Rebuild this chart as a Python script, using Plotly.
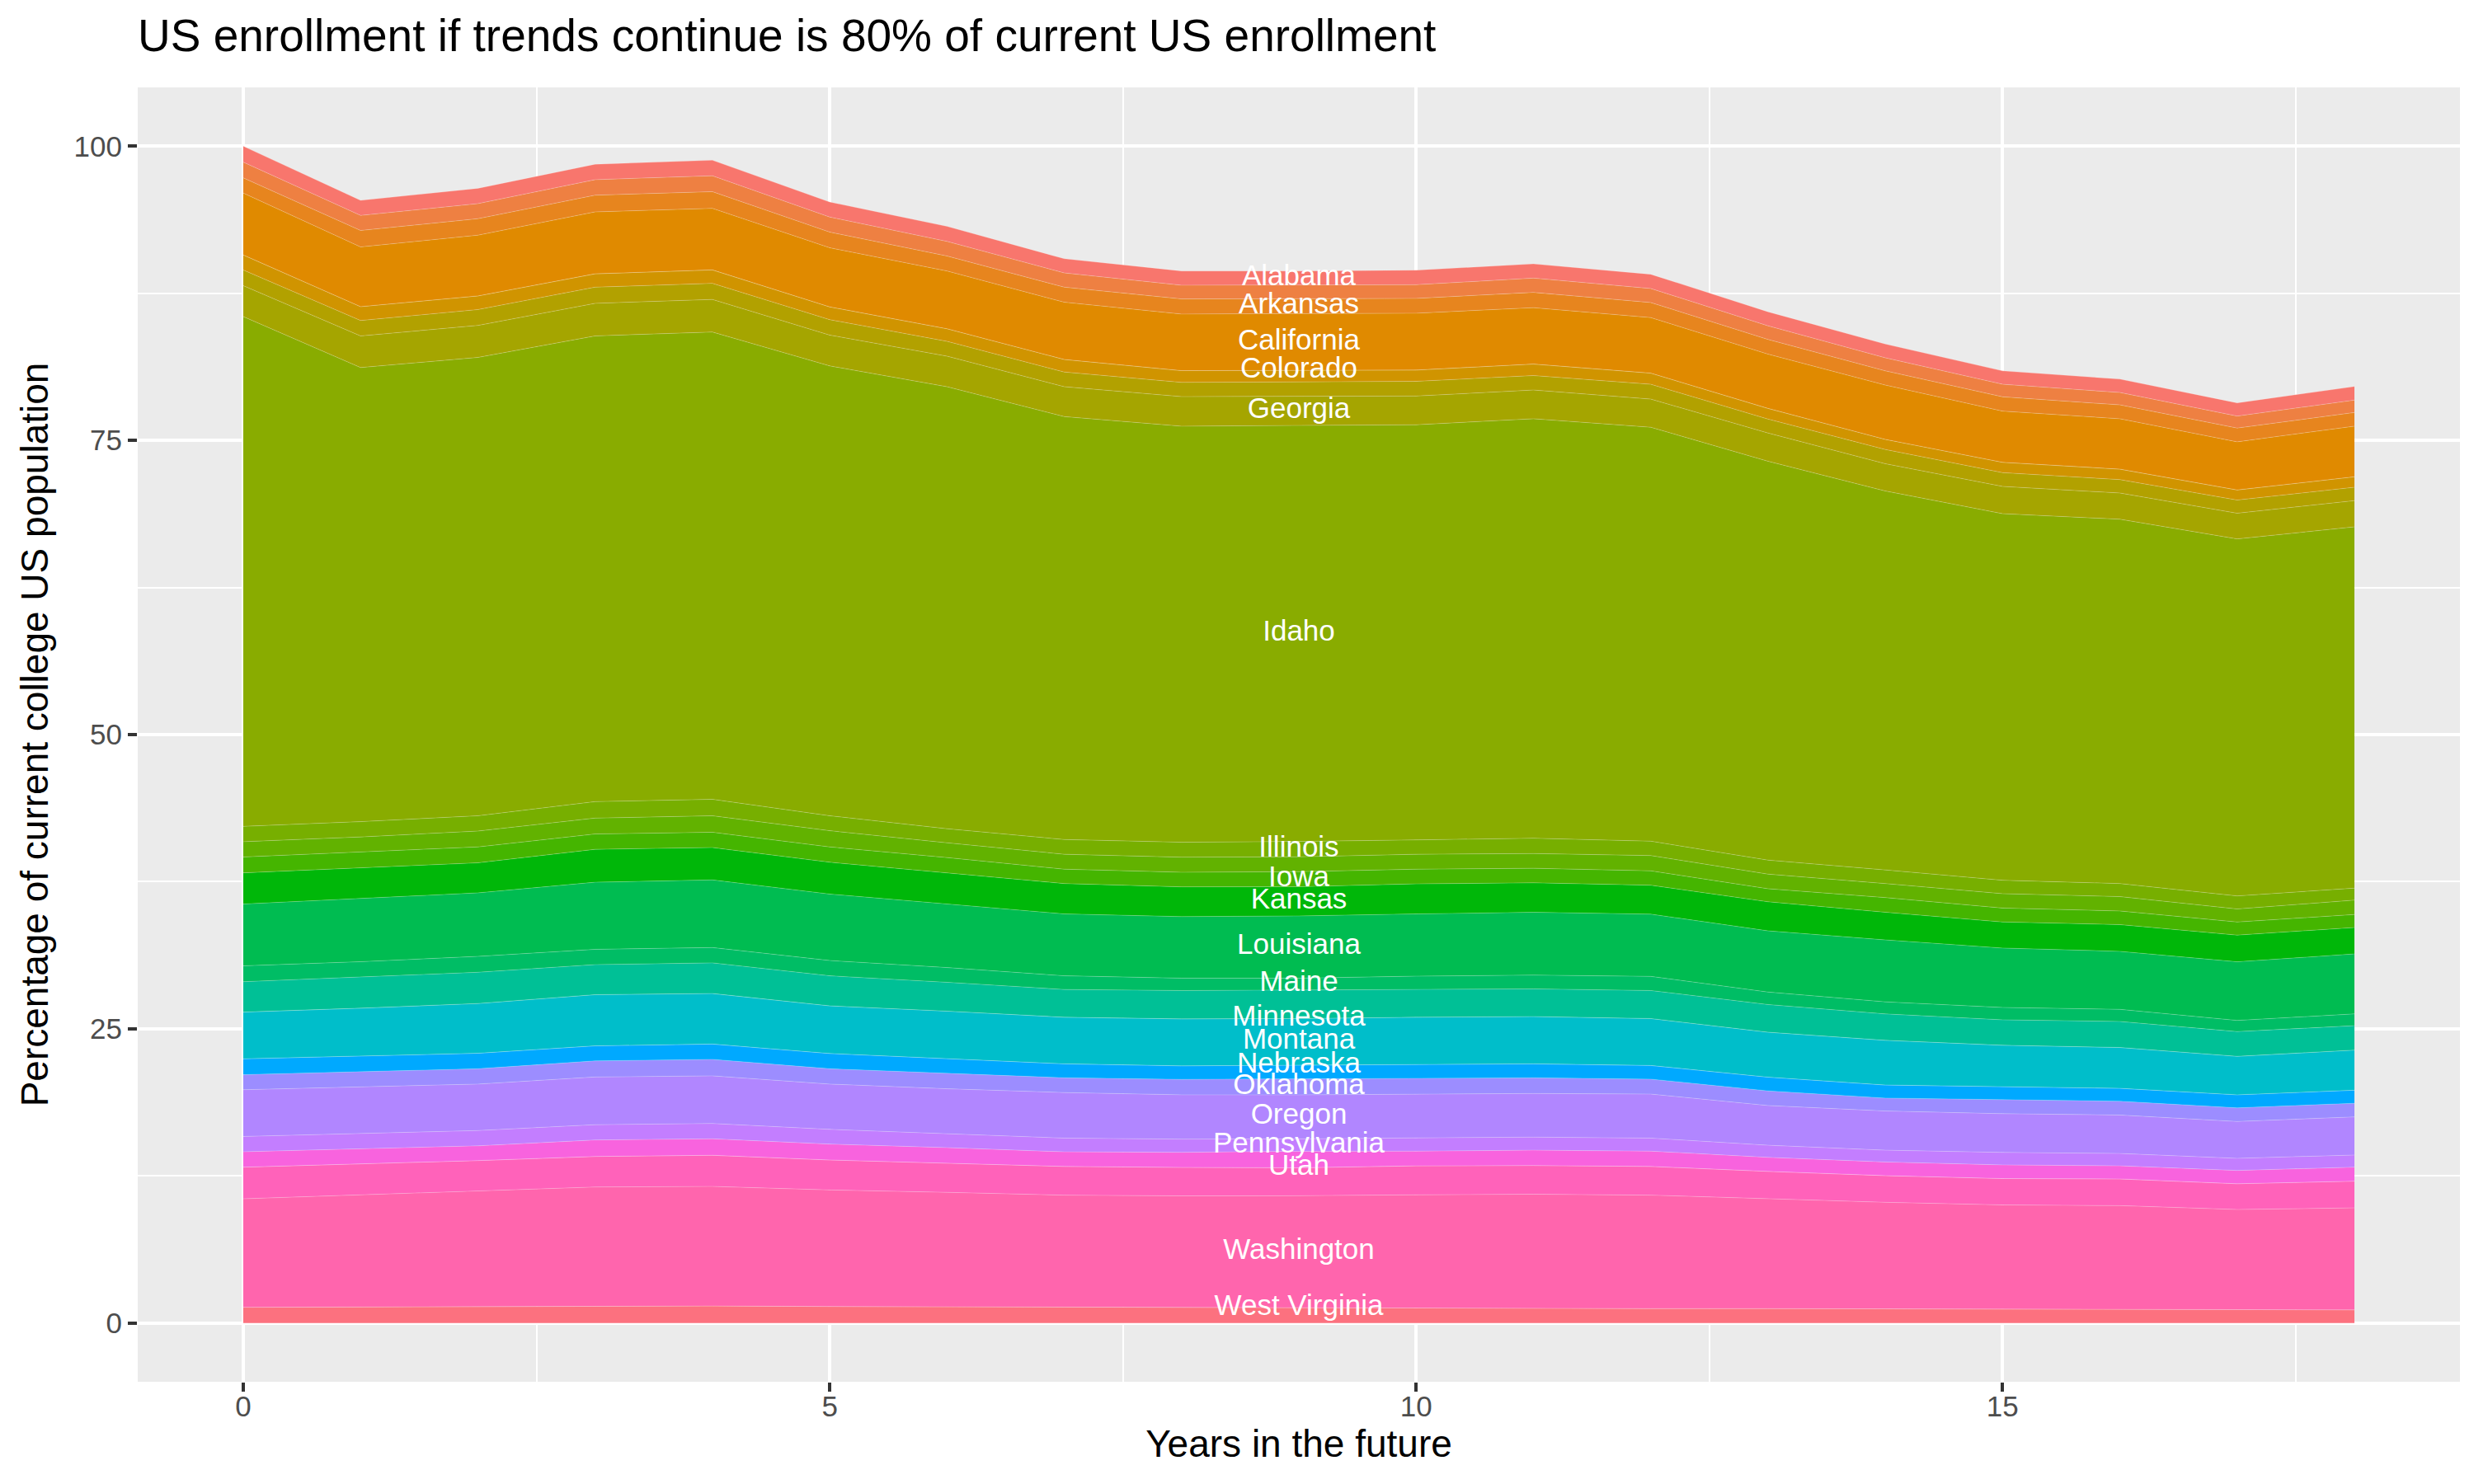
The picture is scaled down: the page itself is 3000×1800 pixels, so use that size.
import math
import plotly.graph_objects as go

years = list(range(19))

# factor levels used for the hue scale (51 levels, ggplot style)
levels = ["Alabama", "Alaska", "Arizona", "Arkansas", "California", "Colorado",
          "Connecticut", "Delaware", "District of Columbia", "Florida", "Georgia",
          "Hawaii", "Idaho", "Illinois", "Indiana", "Iowa", "Kansas", "Kentucky",
          "Louisiana", "Maine", "Maryland", "Massachusetts", "Michigan", "Minnesota",
          "Mississippi", "Missouri", "Montana", "Nebraska", "Nevada", "New Hampshire",
          "New Jersey", "New Mexico", "New York", "North Carolina", "North Dakota",
          "Ohio", "Oklahoma", "Oregon", "Pennsylvania", "Rhode Island",
          "South Carolina", "South Dakota", "Tennessee", "Texas", "Utah", "Vermont",
          "Virginia", "Washington", "West Virginia", "Wisconsin", "Wyoming"]

# states in the stack, top first
states = ["Alabama", "Arizona", "Arkansas", "California", "Colorado", "Connecticut",
          "Florida", "Georgia", "Idaho", "Illinois", "Indiana", "Iowa", "Kansas",
          "Louisiana", "Maine", "Michigan", "Minnesota", "Montana", "Nebraska",
          "New York", "Oklahoma", "Oregon", "Pennsylvania", "Texas", "Utah",
          "Virginia", "Washington", "West Virginia", "Wyoming"]

alabama = [1.35, 1.28, 1.30, 1.31, 1.32, 1.28, 1.28, 1.21, 1.21, 1.19, 1.24, 1.21, 1.21, 1.19, 1.17, 1.14, 1.14, 1.12, 1.16]
arizona = [1.34, 1.28, 1.28, 1.32, 1.35, 1.28, 1.24, 1.21, 1.17, 1.17, 1.16, 1.21, 1.19, 1.16, 1.11, 1.07, 1.05, 1.02, 1.05]
arkansas = [1.29, 1.40, 1.40, 1.42, 1.42, 1.33, 1.27, 1.28, 1.28, 1.28, 1.26, 1.30, 1.28, 1.25, 1.21, 1.21, 1.18, 1.17, 1.16]
california = [5.26, 5.07, 5.16, 5.26, 5.23, 5.02, 4.91, 4.86, 4.81, 4.80, 4.83, 4.79, 4.72, 4.61, 4.61, 4.35, 4.28, 4.09, 4.30]
colorado = [0, 0, 0, 0, 0, 0, 0, 0, 0, 0, 0, 0, 0, 0, 0, 0, 0, 0, 0]
connecticut = [1.28, 1.18, 1.16, 1.14, 1.14, 1.09, 1.07, 1.07, 1.00, 1.01, 0.96, 0.98, 0.95, 0.91, 0.86, 0.88, 0.89, 0.86, 0.89]
florida = [1.33, 1.31, 1.35, 1.37, 1.37, 1.31, 1.26, 1.25, 1.21, 1.21, 1.25, 1.23, 1.26, 1.18, 1.21, 1.17, 1.14, 1.12, 1.14]
georgia = [2.63, 2.69, 2.72, 2.77, 2.77, 2.62, 2.60, 2.54, 2.51, 2.49, 2.44, 2.44, 2.39, 2.40, 2.32, 2.32, 2.23, 2.18, 2.23]
idaho = [43.32, 38.59, 38.95, 39.58, 39.71, 38.23, 37.56, 35.94, 35.36, 35.33, 35.28, 35.65, 35.18, 33.90, 32.20, 31.15, 30.96, 30.34, 30.70]
illinois = [1.30, 1.30, 1.30, 1.40, 1.40, 1.27, 1.20, 1.25, 1.27, 1.31, 1.22, 1.30, 1.22, 1.19, 1.16, 1.14, 1.11, 1.11, 1.02]
indiana = [1.30, 1.30, 1.35, 1.35, 1.40, 1.38, 1.25, 1.27, 1.28, 1.26, 1.27, 1.25, 1.30, 1.24, 1.19, 1.22, 1.22, 1.11, 1.22]
iowa = [1.35, 1.35, 1.35, 1.30, 1.30, 1.30, 1.30, 1.22, 1.24, 1.28, 1.25, 1.24, 1.22, 1.11, 1.25, 1.19, 1.16, 1.11, 1.11]
kansas = [2.65, 2.55, 2.55, 2.80, 2.75, 2.70, 2.65, 2.58, 2.53, 2.48, 2.55, 2.50, 2.46, 2.47, 2.35, 2.21, 2.27, 2.27, 2.24]
louisiana = [5.25, 5.40, 5.40, 5.70, 5.75, 5.65, 5.40, 5.26, 5.23, 5.29, 5.29, 5.34, 5.29, 5.20, 5.26, 5.05, 4.93, 4.98, 5.10]
maine = [1.35, 1.30, 1.35, 1.30, 1.30, 1.30, 1.25, 1.16, 1.05, 1.01, 1.13, 1.17, 1.20, 1.06, 1.03, 1.05, 1.03, 0.95, 1.00]
michigan = [2.58, 2.65, 2.65, 2.55, 2.60, 2.55, 2.45, 2.36, 2.41, 2.42, 2.36, 2.35, 2.38, 2.35, 2.24, 2.16, 2.21, 2.10, 2.07]
minnesota = [0, 0, 0, 0, 0, 0, 0, 0, 0, 0, 0, 0, 0, 0, 0, 0, 0, 0, 0]
montana = [3.97, 4.05, 4.23, 4.35, 4.30, 4.05, 4.05, 3.96, 3.99, 3.97, 4.04, 4.02, 3.99, 3.82, 3.80, 3.52, 3.47, 3.27, 3.41]
nebraska = [0, 0, 0, 0, 0, 0, 0, 0, 0, 0, 0, 0, 0, 0, 0, 0, 0, 0, 0]
new_york = [1.35, 1.35, 1.32, 1.28, 1.30, 1.30, 1.25, 1.19, 1.15, 1.17, 1.16, 1.19, 1.16, 1.17, 1.11, 1.10, 1.10, 1.11, 1.11]
oklahoma = [1.28, 1.30, 1.30, 1.37, 1.40, 1.30, 1.30, 1.25, 1.31, 1.35, 1.33, 1.33, 1.27, 1.24, 1.10, 1.20, 1.17, 1.16, 1.16]
oregon = [3.97, 3.95, 3.95, 4.05, 4.05, 3.85, 3.80, 3.87, 3.77, 3.74, 3.72, 3.71, 3.74, 3.38, 3.33, 3.29, 3.27, 3.13, 3.24]
pennsylvania = [1.30, 1.30, 1.30, 1.30, 1.30, 1.25, 1.20, 1.17, 1.12, 1.05, 1.13, 1.11, 1.11, 1.03, 1.00, 1.06, 1.05, 1.03, 1.03]
texas = [1.31, 1.30, 1.25, 1.40, 1.40, 1.35, 1.30, 1.24, 1.28, 1.40, 1.25, 1.30, 1.30, 1.19, 1.16, 1.16, 1.11, 1.13, 1.19]
utah = [0, 0, 0, 0, 0, 0, 0, 0, 0, 0, 0, 0, 0, 0, 0, 0, 0, 0, 0]
virginia = [2.69, 2.60, 2.60, 2.60, 2.65, 2.55, 2.50, 2.44, 2.42, 2.38, 2.46, 2.44, 2.44, 2.35, 2.27, 2.24, 2.27, 2.19, 2.27]
washington = [9.22, 9.54, 9.80, 10.15, 10.16, 9.90, 9.73, 9.53, 9.49, 9.52, 9.64, 9.69, 9.64, 9.31, 9.06, 8.87, 8.81, 8.53, 8.67]
west_virginia = [0, 0, 0, 0, 0, 0, 0, 0, 0, 0, 0, 0, 0, 0, 0, 0, 0, 0, 0]
wyoming = [1.33, 1.36, 1.40, 1.40, 1.44, 1.40, 1.37, 1.33, 1.31, 1.29, 1.25, 1.25, 1.22, 1.22, 1.19, 1.16, 1.16, 1.11, 1.11]

values = {"Alabama": alabama, "Arizona": arizona, "Arkansas": arkansas,
          "California": california, "Colorado": colorado, "Connecticut": connecticut,
          "Florida": florida, "Georgia": georgia, "Idaho": idaho, "Illinois": illinois,
          "Indiana": indiana, "Iowa": iowa, "Kansas": kansas, "Louisiana": louisiana,
          "Maine": maine, "Michigan": michigan, "Minnesota": minnesota,
          "Montana": montana, "Nebraska": nebraska, "New York": new_york,
          "Oklahoma": oklahoma, "Oregon": oregon, "Pennsylvania": pennsylvania,
          "Texas": texas, "Utah": utah, "Virginia": virginia,
          "Washington": washington, "West Virginia": west_virginia, "Wyoming": wyoming}

labelled = ["Alabama", "Arkansas", "California", "Colorado", "Georgia", "Idaho",
            "Illinois", "Iowa", "Kansas", "Louisiana", "Maine", "Minnesota",
            "Montana", "Nebraska", "Oklahoma", "Oregon", "Pennsylvania", "Utah",
            "Washington", "West Virginia"]
label_year = 9


def hcl(h, c=100, l=65):
    # same conversion R uses in grDevices::hcl
    h = math.radians(h)
    u_ = c * math.cos(h)
    v_ = c * math.sin(h)
    Y = 100 * ((l + 16) / 116) ** 3
    u = u_ / (13 * l) + 0.1978398
    v = v_ / (13 * l) + 0.4683363
    X = 9.0 * Y * u / (4 * v)
    Z = -X / 3 - 5 * Y + 3 * Y / v

    def g(t):
        t = t / 100
        t = 1.055 * t ** (1 / 2.4) - 0.055 if t > 0.00304 else 12.92 * t
        return int(255 * min(max(t, 0), 1) + 0.5)

    r = g(3.240479 * X - 1.537150 * Y - 0.498535 * Z)
    gg = g(-0.969256 * X + 1.875992 * Y + 0.041556 * Z)
    b = g(0.055648 * X - 0.204043 * Y + 1.057311 * Z)
    return "#%02X%02X%02X" % (r, gg, b)


n = len(levels)
colors = {s: hcl(15 + 360 * i / n) for i, s in enumerate(levels)}

fig = go.Figure()

# plotly stacks the first trace at the bottom
label_y = {}
below = 0
for s in reversed(states):
    fig.add_trace(go.Scatter(x=years, y=values[s], mode="lines", stackgroup="one",
                             name=s, fillcolor=colors[s],
                             line=dict(width=1, color="rgba(255,255,255,0.22)")))
    v = values[s][years.index(label_year)]
    label_y[s] = below + v / 2
    below += v

fig.add_trace(go.Scatter(x=[label_year] * len(labelled), y=[label_y[s] for s in labelled],
                         text=labelled, mode="text", textposition="middle center",
                         textfont=dict(color="white", size=35)))

fig.update_layout(
    width=3000, height=1800,
    showlegend=False,
    paper_bgcolor="white", plot_bgcolor="#EBEBEB",
    margin=dict(l=159, r=25, t=98, b=132),
    font=dict(family="Liberation Sans, Arial, sans-serif", color="black"),
    title=dict(text="US enrollment if trends continue is 80% of current US enrollment",
               x=0, xref="paper", xanchor="left",
               y=1 - 35 / 1800, yref="container", yanchor="middle",
               font=dict(size=55, color="black")),
)

fig.update_xaxes(range=[-0.9, 18.9], tick0=0, dtick=5,
                 showgrid=True, gridcolor="white", gridwidth=3.5, zeroline=False,
                 ticks="outside", ticklen=11, tickwidth=3.5, tickcolor="#333333",
                 tickfont=dict(size=35, color="#4D4D4D"), ticklabelstandoff=-12,
                 minor=dict(tick0=0, dtick=2.5, showgrid=True, gridcolor="white", gridwidth=1.8),
                 title=dict(text="Years in the future", font=dict(size=46), standoff=9))
fig.update_yaxes(range=[-5, 105], tick0=0, dtick=25,
                 showgrid=True, gridcolor="white", gridwidth=3.5, zeroline=False,
                 ticks="outside", ticklen=11, tickwidth=3.5, tickcolor="#333333",
                 tickfont=dict(size=35, color="#4D4D4D"),
                 minor=dict(tick0=0, dtick=12.5, showgrid=True, gridcolor="white", gridwidth=1.8),
                 title=dict(text="Percentage of current college US population", font=dict(size=46), standoff=16))

fig.write_html("out.html")
